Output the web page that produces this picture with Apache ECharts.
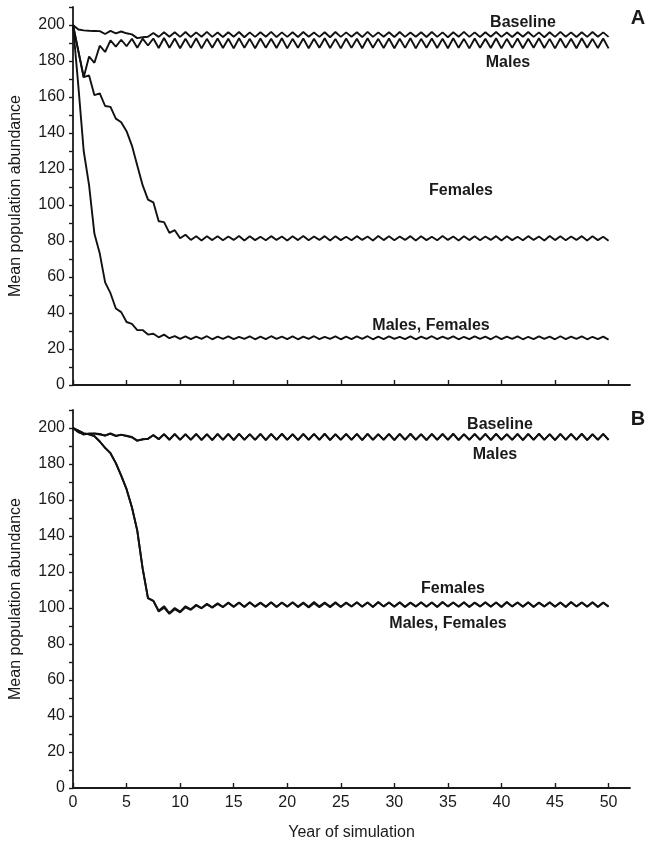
<!DOCTYPE html>
<html>
<head>
<meta charset="utf-8">
<script src="https://cdn.jsdelivr.net/npm/echarts@6/dist/echarts.min.js"></script>
<style>
html,body{margin:0;padding:0;background:#fff;}
#chart{width:652px;height:852px;}
</style>
</head>
<body>
<div id="chart"></div>
<script>
const years = [0,0.5,1,1.5,2,2.5,3,3.5,4,4.5,5,5.5,6,6.5,7,7.5,8,8.5,9,9.5,
10,10.5,11,11.5,12,12.5,13,13.5,14,14.5,15,15.5,16,16.5,17,17.5,18,18.5,19,19.5,
20,20.5,21,21.5,22,22.5,23,23.5,24,24.5,25,25.5,26,26.5,27,27.5,28,28.5,29,29.5,
30,30.5,31,31.5,32,32.5,33,33.5,34,34.5,35,35.5,36,36.5,37,37.5,38,38.5,39,39.5,
40,40.5,41,41.5,42,42.5,43,43.5,44,44.5,45,45.5,46,46.5,47,47.5,48,48.5,49,49.5,50];

const xTickValues = [0,5,10,15,20,25,30,35,40,45,50];

// Panel A
const aBaseline = [200,197.5,197,196.8,196.7,196.6,195,196.7,195.4,196.4,195.4,194.8,192.7,193.2,193.5,195.6,193.4,196,193.5,196,
193.4,196.1,193.3,195.9,193.5,196.2,193.4,195.8,193.3,196,193.5,196.1,193.2,195.9,193.4,196,193.5,196.2,193.3,195.9,
193.4,196,193.3,196.1,193.5,195.8,193.4,196,193.2,196.1,193.4,195.9,193.5,196,193.3,196.2,193.4,195.9,193.5,196,
193.3,196.1,193.4,195.8,193.5,196,193.3,196.1,193.4,195.9,193.2,196,193.5,196.2,193.4,195.9,193.3,196,193.5,196.1,
193.4,195.8,193.3,196,193.5,196.1,193.4,195.9,193.2,196,193.4,196.2,193.5,195.9,193.3,196,193.4,196.1,193.5,195.9,193.4];

const aMales = [200,185.5,171,182.5,179,188.5,185,191.5,188,191.8,188.2,192.4,187.4,192.4,188.6,192.5,187.2,192.8,187.4,192.5,
187.1,192.4,187.3,192.6,187,192.3,187.4,192.5,187.2,192.4,187,192.6,187.3,192.3,187.1,192.5,187.4,192.4,187.2,192.6,
187,192.3,187.3,192.5,187.1,192.4,187.4,192.6,187.2,192.3,187,192.5,187.3,192.4,187.1,192.6,187.4,192.3,187.2,192.5,
187.1,192.4,187.3,192.6,187,192.3,187.4,192.5,187.2,192.4,187.1,192.6,187.3,192.3,187,192.5,187.4,192.4,187.2,192.6,
187,192.3,187.3,192.5,187.1,192.4,187.4,192.6,187.2,192.3,187,192.5,187.3,192.4,187.1,192.6,187.4,192.3,187.2,192.5,187];

const aFemales = [200,185.5,171,172,161,162,155,154.5,148,146,141,133,122,111,103,101.5,91,90.5,84.5,86,
81.5,83.5,80.6,82.6,80.3,82.6,80.5,82.7,80.4,82.5,80.6,82.8,80.3,82.6,80.5,82.4,80.4,82.7,80.6,82.5,
80.3,82.6,80.5,82.8,80.4,82.5,80.6,82.7,80.3,82.6,80.5,82.4,80.4,82.7,80.6,82.5,80.3,82.8,80.5,82.6,
80.4,82.5,80.6,82.7,80.3,82.6,80.5,82.4,80.4,82.8,80.6,82.5,80.3,82.7,80.5,82.6,80.4,82.5,80.6,82.7,
80.3,82.6,80.5,82.4,80.4,82.7,80.6,82.5,80.3,82.8,80.5,82.6,80.4,82.5,80.6,82.7,80.3,82.6,80.5,82.4,80.2];

const aMalesFemales = [200,166,130,111,84,73,57,51,42.5,40.5,35,34,30.5,30.5,28,28.5,26.5,28,26,27.2,
25.6,27,25.5,26.9,25.6,27.1,25.4,26.9,25.6,27,25.5,26.8,25.6,27,25.4,26.9,25.5,27.1,25.6,26.9,
25.5,27,25.4,26.9,25.6,27.1,25.5,26.8,25.6,27,25.4,26.9,25.5,27,25.6,27.1,25.4,26.9,25.5,27,
25.6,26.8,25.5,27,25.4,26.9,25.6,27.1,25.5,26.9,25.6,27,25.4,26.8,25.5,27,25.6,26.9,25.4,27.1,
25.5,26.9,25.6,27,25.4,26.8,25.5,27,25.6,26.9,25.4,27.1,25.5,26.9,25.6,27,25.4,26.8,25.5,26.9,25.2];

// Panel B
const bBaseline = [200,198,196.3,197,197,196.7,195.7,197,195.7,196.2,195.7,195,192.8,193.8,193.9,196.1,193.9,196.6,193.4,196.7,
193.4,196.6,193.5,196.7,193.3,196.5,193.4,196.7,193.5,196.6,193.3,196.8,193.4,196.5,193.5,196.7,193.3,196.6,193.4,196.8,
193.5,196.5,193.3,196.7,193.4,196.6,193.5,196.8,193.3,196.5,193.4,196.7,193.5,196.6,193.3,196.8,193.4,196.5,193.5,196.7,
193.3,196.6,193.4,196.8,193.5,196.5,193.3,196.7,193.4,196.6,193.5,196.8,193.3,196.5,193.4,196.7,193.5,196.6,193.3,196.8,
193.4,196.5,193.5,196.7,193.3,196.6,193.4,196.8,193.5,196.5,193.3,196.7,193.4,196.6,193.5,196.8,193.3,196.5,193.4,196.7,193.4];

const bMales = [200,197.6,196.8,196.6,196.9,196.4,195.9,196.8,195.5,196.3,195.5,194.8,193.1,193.6,194.1,196,193.7,196.5,193.6,196.5,
193.5,196.5,193.4,196.6,193.5,196.6,193.3,196.6,193.4,196.7,193.4,196.7,193.5,196.6,193.4,196.6,193.4,196.7,193.5,196.7,
193.4,196.6,193.4,196.6,193.5,196.7,193.4,196.7,193.4,196.6,193.5,196.6,193.4,196.7,193.4,196.7,193.5,196.6,193.4,196.6,
193.4,196.7,193.5,196.7,193.4,196.6,193.4,196.6,193.5,196.7,193.4,196.7,193.4,196.6,193.5,196.6,193.4,196.7,193.4,196.7,
193.5,196.6,193.4,196.6,193.4,196.7,193.5,196.7,193.4,196.6,193.4,196.6,193.5,196.7,193.4,196.7,193.4,196.6,193.5,196.6,193.4];

const bFemales = [200,198.5,197,196.5,195.5,192.5,189,186,180.5,173.5,166,156,143,122,105.5,104,98.5,101,97.2,100,
98,101,99.3,101.8,100,102.3,100.4,102.6,100.6,103,100.8,103.1,100.7,103.2,100.9,103,100.8,103.2,100.7,103.1,
100.9,103.2,100.8,103,100.7,103.3,100.9,103.1,100.8,103.2,100.7,103,100.9,103.2,100.8,103.1,100.7,103.3,100.9,103.1,
100.8,103.2,100.7,103,100.9,103.2,100.8,103.1,100.7,103.3,100.9,103.1,100.8,103.2,100.7,103,100.9,103.2,100.8,103.1,
100.7,103.3,100.9,103.1,100.8,103.2,100.7,103,100.9,103.2,100.8,103.1,100.7,103.3,100.9,103.1,100.8,103.2,100.7,103,100.8];

const bMalesFemales = [200,198.5,197,196.5,195.5,192.5,189,186,180.5,173.5,166,156,143,122,105.5,104,98,100.2,96.8,99.3,
97.6,100.4,99,101.4,99.8,102,100.2,102.3,100.5,102.8,100.6,102.9,100.5,103,100.7,102.8,100.6,103,100.5,102.9,
100.7,103,100.5,102.6,100.3,102.7,100.4,102.6,100.4,102.8,100.5,102.8,100.8,103.1,100.7,103,100.6,103.2,100.8,103,
100.7,103.1,100.6,102.9,100.8,103.1,100.7,103,100.6,103.2,100.8,103,100.7,103.1,100.6,102.9,100.8,103.1,100.7,103,
100.6,103.2,100.8,103,100.7,103.1,100.6,102.9,100.8,103.1,100.7,103,100.6,103.2,100.8,103,100.7,103.1,100.6,102.9,100.7];

const labelsA = ['Baseline','Males','Females','Males, Females'];
const labelsB = ['Baseline','Males','Females','Males, Females'];

const FONT = '"Liberation Sans", Arial, sans-serif';
const INK = '#1a1a1a';

function pairs(ys){ return years.map((x,i)=>[x, ys[i]]); }

function xAxisCfg(gridIndex, showLabels){
  return {
    type:'value', gridIndex, min:0, max:52,
    axisLine:{show:true, onZero:false, lineStyle:{color:INK, width:1.8}},
    axisTick:{show:true, inside:true, length:5, customValues:xTickValues, lineStyle:{color:INK, width:1.4}},
    axisLabel:{show:showLabels, customValues:xTickValues, color:INK, fontFamily:FONT, fontSize:16, margin:7},
    splitLine:{show:false},
    name: showLabels ? 'Year of simulation' : '',
    nameLocation:'middle', nameGap:37,
    nameTextStyle:{color:INK, fontFamily:FONT, fontSize:16}
  };
}
function yAxisCfg(gridIndex){
  return {
    type:'value', gridIndex, min:0, max:210, interval:10,
    axisLine:{show:true, onZero:false, lineStyle:{color:INK, width:1.8}},
    axisTick:{show:true, inside:false, length:4, lineStyle:{color:INK, width:1.4}},
    axisLabel:{color:INK, fontFamily:FONT, fontSize:16, margin:8,
      formatter:v => (v % 20 === 0 ? String(v) : '')},
    splitLine:{show:false},
    name:'Mean population abundance', nameLocation:'middle', nameGap:49,
    nameTextStyle:{color:INK, fontFamily:FONT, fontSize:16}
  };
}
function line(data, xi){
  return {type:'line', xAxisIndex:xi, yAxisIndex:xi, data:pairs(data), showSymbol:false, symbol:'none',
    silent:true, animation:false, lineStyle:{color:'#111', width:1.9}, z:2};
}
function label(x,y,s,size){
  return {type:'text', x:x, y:y, style:{text:s, fill:INK, font:'bold '+(size||16)+'px '+FONT, align:'center', verticalAlign:'middle'}};
}

const chart = echarts.init(document.getElementById('chart'), null, {renderer:'canvas'});
chart.setOption({
  backgroundColor:'#fff',
  animation:false,
  grid:[
    {left:73, top:7, width:557, height:378},
    {left:73, top:410, width:557, height:378}
  ],
  xAxis:[xAxisCfg(0,false), xAxisCfg(1,true)],
  yAxis:[yAxisCfg(0), yAxisCfg(1)],
  series:[
    line(aBaseline,0), line(aMales,0), line(aFemales,0), line(aMalesFemales,0),
    line(bBaseline,1), line(bMales,1), line(bFemales,1), line(bMalesFemales,1)
  ],
  graphic:[
    label(523,23,labelsA[0]), label(508,63,labelsA[1]), label(461,191,labelsA[2]), label(431,326,labelsA[3]),
    label(638,18,'A',20),
    label(500,425,labelsB[0]), label(495,455,labelsB[1]), label(453,589,labelsB[2]), label(448,624,labelsB[3]),
    label(638,419,'B',20)
  ]
});
</script>
</body>
</html>
